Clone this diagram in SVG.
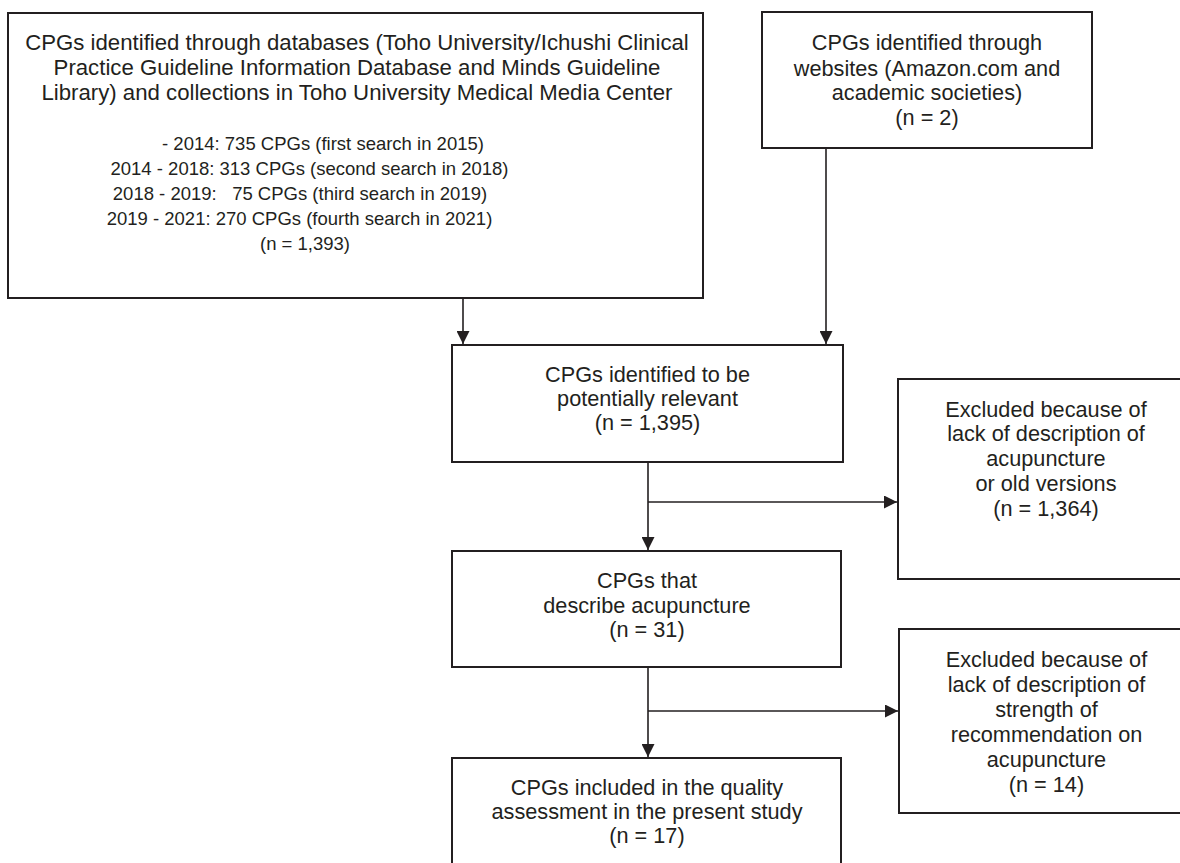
<svg xmlns="http://www.w3.org/2000/svg" width="1180" height="863" viewBox="0 0 1180 863">
<defs>
<style>
.box{fill:#fff;stroke:#231f20;stroke-width:2}
.t{font-family:"Liberation Sans",Arial,sans-serif;font-size:21.7px;fill:#231f20;text-anchor:middle;white-space:pre}
.b{font-size:22.2px}
.s{font-size:18.5px}
.ln{stroke:#231f20;stroke-width:1.6;fill:none}
</style>
<marker id="ah" viewBox="0 0 13 13" refX="13" refY="6.5" markerWidth="13" markerHeight="13" markerUnits="userSpaceOnUse" orient="auto">
<path d="M0,0 L13,6.5 L0,13 Z" fill="#231f20"/>
</marker>
</defs>
<rect width="1180" height="863" fill="#fff"/>
<g id="connectors">
<line class="ln" x1="463" y1="298" x2="463" y2="344" marker-end="url(#ah)"/>
<line class="ln" x1="826" y1="148" x2="826" y2="344" marker-end="url(#ah)"/>
<line class="ln" x1="648" y1="462" x2="648" y2="550" marker-end="url(#ah)"/>
<line class="ln" x1="648" y1="502" x2="897" y2="502" marker-end="url(#ah)"/>
<line class="ln" x1="648" y1="667" x2="648" y2="757" marker-end="url(#ah)"/>
<line class="ln" x1="648" y1="711" x2="898" y2="711" marker-end="url(#ah)"/>
</g>
<g id="n1">
<rect class="box" x="8" y="13" width="695" height="285"/>
<text class="t b" x="357" y="50">CPGs identified through databases (Toho University/Ichushi Clinical</text>
<text class="t b" x="357" y="75">Practice Guideline Information Database and Minds Guideline</text>
<text class="t b" x="357" y="100">Library) and collections in Toho University Medical Media Center</text>
<text class="t s" x="323" y="150">- 2014: 735 CPGs (first search in 2015)</text>
<text class="t s" x="309.5" y="175">2014 - 2018: 313 CPGs (second search in 2018)</text>
<text class="t s" x="300" y="200">2018 - 2019:   75 CPGs (third search in 2019)</text>
<text class="t s" x="299.5" y="225">2019 - 2021: 270 CPGs (fourth search in 2021)</text>
<text class="t s" x="305" y="250">(n = 1,393)</text>
</g>
<g id="n2">
<rect class="box" x="762" y="12" width="330" height="136"/>
<text class="t" x="927" y="50">CPGs identified through</text>
<text class="t" x="927" y="76">websites (Amazon.com and</text>
<text class="t" x="927" y="100">academic societies)</text>
<text class="t" x="927" y="125">(n = 2)</text>
</g>
<g id="n3">
<rect class="box" x="452" y="345" width="391" height="117"/>
<text class="t" x="647.5" y="382">CPGs identified to be</text>
<text class="t" x="647.5" y="406">potentially relevant</text>
<text class="t" x="647.5" y="430">(n = 1,395)</text>
</g>
<g id="n4">
<rect class="box" x="898" y="379" width="302" height="200"/>
<text class="t" x="1046" y="417">Excluded because of</text>
<text class="t" x="1046" y="441">lack of description of</text>
<text class="t" x="1046" y="466">acupuncture</text>
<text class="t" x="1046" y="491">or old versions</text>
<text class="t" x="1046" y="516">(n = 1,364)</text>
</g>
<g id="n5">
<rect class="box" x="452" y="551" width="389" height="116"/>
<text class="t" x="647" y="588">CPGs that</text>
<text class="t" x="647" y="613">describe acupuncture</text>
<text class="t" x="647" y="637">(n = 31)</text>
</g>
<g id="n6">
<rect class="box" x="899" y="629" width="301" height="184"/>
<text class="t" x="1046.5" y="667">Excluded because of</text>
<text class="t" x="1046.5" y="692">lack of description of</text>
<text class="t" x="1046.5" y="717">strength of</text>
<text class="t" x="1046.5" y="742">recommendation on</text>
<text class="t" x="1046.5" y="767">acupuncture</text>
<text class="t" x="1046.5" y="792">(n = 14)</text>
</g>
<g id="n7">
<rect class="box" x="452" y="758" width="389" height="122"/>
<text class="t" x="647" y="795">CPGs included in the quality</text>
<text class="t" x="647" y="819">assessment in the present study</text>
<text class="t" x="647" y="843">(n = 17)</text>
</g>
</svg>
